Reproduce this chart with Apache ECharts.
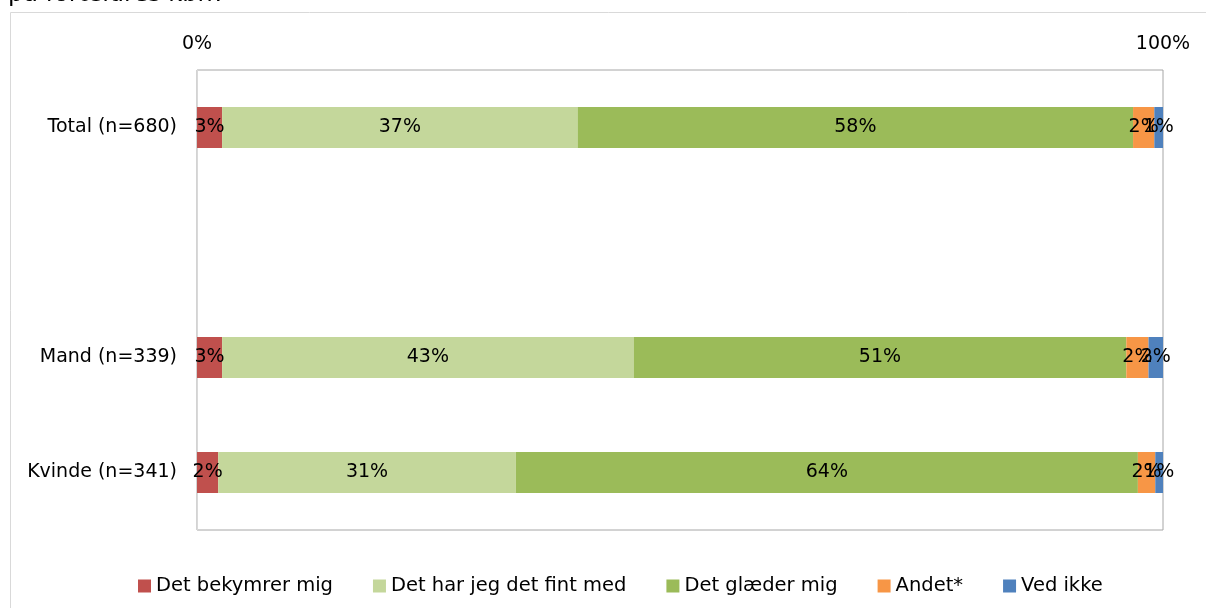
<!DOCTYPE html>
<html>
<head>
<meta charset="utf-8">
<script src="https://cdn.jsdelivr.net/npm/echarts@6/dist/echarts.min.js"></script>
<style>
  html, body { margin: 0; padding: 0; background: #fff; }
  #chart { width: 1206px; height: 608px; }
</style>
</head>
<body>
<div id="chart"></div>
<script>
// categories (empty slot between Total and the gender rows)
const categories = ['Total (n=680)', '', 'Mand (n=339)', 'Kvinde (n=341)'];

// shares in percent
const bekymrer = [2.6, '-', 2.6, 2.2];
const fintMed = [36.8, '-', 42.6, 30.8];
const glaeder = [57.5, '-', 51.0, 64.4];
const andet = [2.2, '-', 2.3, 1.8];
const vedIkke = [0.9, '-', 1.5, 0.8];

const seriesNames = ['Det bekymrer mig', 'Det har jeg det fint med', 'Det glæder mig', 'Andet*', 'Ved ikke'];
const seriesData = [bekymrer, fintMed, glaeder, andet, vedIkke];
const colors = ['#C0504D', '#C4D79B', '#9BBB59', '#F79646', '#4F81BD'];

const font = 'DejaVu Sans, sans-serif';

const chart = echarts.init(document.getElementById('chart'), null, {
  width: 1206,
  height: 608,
  renderer: 'canvas',
  devicePixelRatio: 1,
});

const option = {
  animation: false,
  color: colors,
  textStyle: { fontFamily: font },
  graphic: [
    {
      type: 'rect',
      shape: { x: 10.5, y: 12.5, width: 1300, height: 700 },
      style: { fill: 'none', stroke: '#d9d9d9', lineWidth: 1 },
    },
    {
      // title of the chart, mostly cut off by the top edge
      type: 'text',
      x: 8,
      y: -17,
      style: { text: 'på forældres kbh?', fontSize: 24, fontFamily: font, fill: '#000', verticalAlign: 'top' },
    },
  ],
  legend: {
    data: seriesNames,
    left: 133,
    top: 571,
    itemWidth: 13,
    itemHeight: 13,
    itemGap: 40,
    icon: 'rect',
    textStyle: { fontSize: 19.5, color: '#000', fontFamily: font },
  },
  grid: {
    left: 197,
    right: 43,
    top: 70,
    bottom: 78,
    show: true,
    borderColor: '#a6a6a6',
    borderWidth: 1,
  },
  xAxis: {
    type: 'value',
    position: 'top',
    min: 0,
    max: 100,
    interval: 100,
    axisLine: { show: false },
    axisTick: { show: false },
    splitLine: { show: false },
    axisLabel: {
      formatter: '{value}%',
      fontSize: 19,
      color: '#000',
      margin: 16,
    },
  },
  yAxis: {
    type: 'category',
    inverse: true,
    data: categories,
    axisLine: { show: true, lineStyle: { color: '#d9d9d9' } },
    axisTick: { show: false },
    axisLabel: { fontSize: 19, color: '#000', margin: 20 },
  },
  series: seriesNames.map((name, i) => ({
    name: name,
    type: 'bar',
    stack: 'total',
    barWidth: 41,
    data: seriesData[i],
    label: {
      show: true,
      position: 'inside',
      color: '#000',
      fontSize: 19,
      fontFamily: font,
      formatter: (p) => Math.round(p.value) + '%',
    },
  })),
};

chart.setOption(option);
</script>
</body>
</html>
